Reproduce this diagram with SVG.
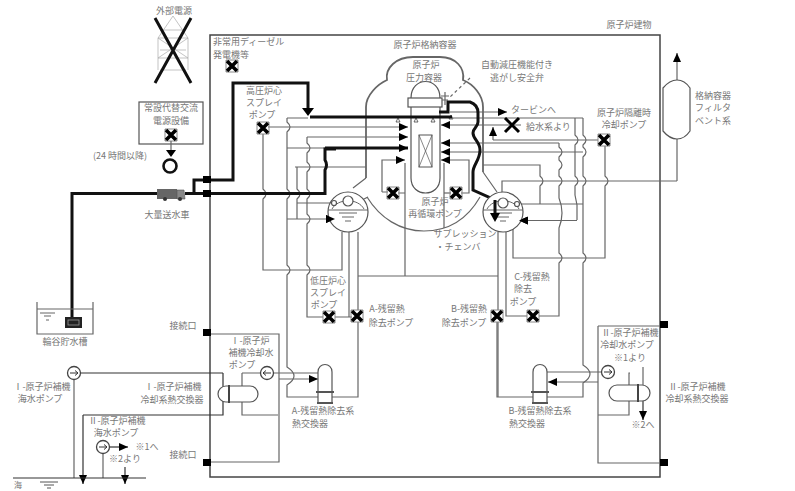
<svg xmlns="http://www.w3.org/2000/svg" width="795" height="491" viewBox="0 0 795 491">
<style>
text{font-family:"Noto Sans CJK JP","Noto Sans",sans-serif;font-size:9px;fill:#777;text-anchor:middle}
.s{text-anchor:start}
.p{fill:none;stroke:#666;stroke-width:1.2}
.d{fill:none;stroke:#333;stroke-width:1.2}
.g{fill:none;stroke:#666;stroke-width:1.8}
.t{fill:none;stroke:#111;stroke-width:3}
.l{fill:none;stroke:#aaa;stroke-width:.7}
.h{fill:#fff;stroke:#555;stroke-width:1.2}
.b{fill:#000}
</style>
<defs>
<marker id="a" markerUnits="userSpaceOnUse" markerWidth="10" markerHeight="8" refX="9" refY="4" orient="auto"><path d="M0,0L9,4L0,8Z" fill="#000"/></marker>
<g id="xp"><path d="M-6,-6H6L-6,6H6ZM-6,-6V6M6,-6V6" fill="#fff" stroke="#888" stroke-width="1"/><path d="M-5,-5L5,5M5,-5L-5,5" stroke="#000" stroke-width="3.6"/></g>
<g id="pu"><circle r="6.5" fill="#fff" stroke="#444" stroke-width="1.3"/><path d="M-4,0H4M1,-2.5L4,0L1,2.5" fill="none" stroke="#333" stroke-width="1"/></g>
<g id="hx"><path class="h" d="M-7,38V7C-7,-3 7,-3 7,7V38Z"/><path d="M-9,27H9M-8,38H8" stroke="#555" stroke-width="2"/></g>
<g id="tr"><circle r="20" class="h"/><path d="M-16,-3C-10,-14 10,-14 16,-3M-20,-2H20M-9,1H9M-6,5H6M-3,9H3" fill="none" stroke="#666" stroke-width="1"/></g>
</defs>

<g id="building"><rect x="210" y="35" width="450" height="442" fill="none" stroke="#444" stroke-width="1.5"/></g>

<g id="containment"><path class="g" d="M366,178V107C366,95 378,84 387,80C385,68 396,57 413,57H440C456,57 465,68 463,80C473,84 483,95 483,107V172"/><path class="p" d="M367,197C380,218 400,231 424,231C450,231 468,218 480,197"/><path class="p" d="M366,178L353,188M368,197L358,202M483,172L497,192"/></g>

<g id="rpv"><path class="h" d="M411,107V98C411,76 440,76 440,98V107"/><path class="h" d="M411,107V178C411,198 440,198 440,178V107"/><rect class="h" x="408" y="98" width="34" height="9"/><rect x="419" y="135" width="13" height="32" fill="#fff" stroke="#555"/><path class="l" style="stroke:#555" d="M419,135L432,167M432,135L419,167"/><path d="M398,118l-2,4h4zM416,118l-2,4h4zM433,118l-2,4h4zM451,115l-2,4h4z" fill="#fff" stroke="#444" stroke-width=".8"/></g>

<g id="connectors">
<path class="p" d="M405,163V276M444,163V228M287,118H308"/>
<path class="p" d="M287,118V122q6,5 0,10V189q6,5 0,10V265q6,5 0,10V367q14,9 0,18V397H358V232"/>
<path class="p" d="M263,133V189q6,5 0,10V270H342V232"/>
<path class="p" d="M307,137V143q6,5 0,10V162q6,5 0,10V189q6,5 0,10V214q6,5 0,10V265q6,5 0,10V317H323M335,317H352"/>
<path class="p" d="M349,232V317"/>
<path class="p" d="M297,167V189q6,5 0,10V219M297,203H333M287,148H325M295,167H366"/>
<path class="p" marker-end="url(#a)" d="M268,127H408"/>
<path class="p" marker-end="url(#a)" d="M307,137H408"/>
<path class="p" marker-end="url(#a)" d="M287,219H335"/>
<path class="p" marker-end="url(#a)" d="M382,192V160H405"/>
<path class="p" d="M382,192H388M398,193H405"/>
<path class="p" marker-end="url(#a)" d="M461,193H469V160H441"/>
<path class="p" d="M444,193H451"/>
<path class="p" d="M358,276H498M498,232V311M498,321V397"/>
<path class="p" marker-end="url(#a)" d="M521,125H441"/>
<path class="p" marker-end="url(#a)" d="M493,140V127"/>
<path class="p" d="M493,140H598"/>
<path class="p" marker-end="url(#a)" d="M450,112H507"/>
<path class="p" marker-end="url(#a)" d="M559,143H441"/>
<path class="p" marker-end="url(#a)" d="M583,152H441"/>
<path class="p" d="M483,165H540V176q6,5 0,10V204M502,200V181H677"/>
<path class="p" d="M559,143V147q6,5 0,10V160q6,5 0,10V176q6,5 0,10V198q6,15 0,30V253q6,5 0,10V316H539M527,316H506V232"/>
<path class="p" d="M452,118H583M575,118V135q6,5 0,10V176q6,5 0,10V195L577,205V220"/>
<path class="p" d="M583,118V135q6,5 0,10V147q6,5 0,10V176q6,5 0,10V253q6,5 0,10V365q14,9 0,18V397H497V321"/>
<path class="p" d="M520,204H583M513,220V258H605V186q6,-5 0,-10V146"/>
<path class="p" marker-end="url(#a)" d="M577,220.5H519"/>
<path class="p" d="M677,139V181"/>
<path class="p" marker-end="url(#a)" d="M677,80V53"/>
<path class="d" d="M74,373H210M223,373V415H83M210,373H223"/>
<path class="p" stroke-width="1.5" d="M74,379V478M103,453V478"/>
<path class="d" marker-end="url(#a)" d="M83,415V484"/>
<path class="d" marker-end="url(#a)" d="M109,447H128"/>
<path class="d" marker-end="url(#a)" d="M125,467V484"/>
<path class="d" d="M13,478H146"/>
<path class="p" d="M211,334H279V462H211M242,373V415H278M242,373H262M272,373H318"/>
<path class="p" marker-end="url(#a)" d="M279,379H318"/>
<path class="p" d="M598,326V463H660M630,373H629V415H598M547,372H602"/>
<path class="p" marker-end="url(#a)" d="M598,382H548"/>
<path class="p" d="M643,367V385"/>
<path class="d" marker-end="url(#a)" d="M643,401V420"/>
<path class="p" d="M598,326H660"/>
<path class="p" stroke-dasharray="3 3" d="M470,78L450,97"/>
<path class="p" d="M445,92V105M441,96H449M442,100H448"/>
<path class="t" d="M72,317V193.5H157M185,193.5H325V170q3,-5 0,-10V149H336"/>
<path class="t" d="M194,194V180H233V83H308V112"/>
<path class="t" marker-end="url(#a)" d="M325,148H408"/>
<path class="t" d="M310,117H452"/>
<path class="t" d="M439,112H448V102H470C476,104 478,108 478,113V122C478,127 473,128 473,133C473,139 480,142 480,150C480,160 473,165 473,172V190L495,200V214"/>
<path d="M302,108H314L308,116Z" fill="#000"/>
<path d="M490,213H500L495,222Z" fill="#000"/>
</g>

<g id="torus-a"><use href="#tr" x="348" y="212"/><circle cx="348" cy="201" r="5" class="h"/><circle cx="334" cy="203" r="2.5" class="h"/></g>
<g id="torus-b"><use href="#tr" x="503" y="212"/><circle cx="503" cy="203" r="5" class="h"/><circle cx="517" cy="204" r="2.5" class="h"/><path class="t" d="M495,200V214"/><path d="M490,213H500L495,222Z" fill="#000"/><path d="M519,220.5L528,216.5V224.5Z" fill="#000"/></g>
<g id="torus-a-arrow"><path d="M335,219L326,215V223Z" fill="#000"/></g>

<g id="external-power"><path class="l" d="M173,16L158,38V70M173,16L188,38V70M162,30H184M158,38H188M160,50H186M158,58H188M160,70H186M158,38L188,58M188,38L158,58"/><path d="M155,18L191,83M191,18L155,83" stroke="#111" stroke-width="3" fill="none"/></g>

<g id="ac-power"><rect x="139" y="102" width="64" height="42" fill="#fff" stroke="#555" stroke-width="1.2"/><use href="#xp" x="171" y="135"/></g>
<g id="ac-link"><path class="p" d="M171,141V150"/><path d="M166,150H176L171,157Z" fill="#000"/><circle cx="170" cy="166" r="6.5" fill="none" stroke="#111" stroke-width="2.6"/></g>

<g id="truck"><rect x="157" y="189" width="20" height="10" fill="#666"/><path d="M177,190H184L185,199H177Z" fill="#888" stroke="#555" stroke-width=".6"/><circle cx="165" cy="199" r="2" fill="#333"/><circle cx="180" cy="199" r="2" fill="#333"/></g>

<g id="tank"><path class="p" d="M37,302V334H93V302M37,309H93M40,313H55M44,316H51M46,320H49"/><rect x="65" y="317" width="17" height="11" fill="#222"/><rect x="68" y="320" width="11" height="5" fill="none" stroke="#999" stroke-width=".8"/></g>

<g id="ports"><rect class="b" x="203" y="176" width="8" height="7"/><rect class="b" x="203" y="190" width="8" height="7"/><rect class="b" x="203" y="329" width="8" height="7"/><rect class="b" x="203" y="459" width="8" height="7"/><rect class="b" x="660" y="321" width="8" height="7"/><rect class="b" x="660" y="459" width="8" height="7"/></g>

<g id="pump-edg"><use href="#xp" x="232" y="66"/></g>
<g id="pump-hpcs"><use href="#xp" x="263" y="128"/></g>
<g id="pump-rcic"><use href="#xp" x="604" y="140"/></g>
<g id="pump-feed"><path d="M505,118L519,132M519,118L505,132" stroke="#000" stroke-width="3"/></g>
<g id="pump-r1"><use href="#xp" x="393" y="193"/></g>
<g id="pump-r2"><use href="#xp" x="456" y="193"/></g>
<g id="pump-lpcs"><use href="#xp" x="329" y="317"/></g>
<g id="pump-rhra"><use href="#xp" x="357" y="316"/></g>
<g id="pump-rhrb"><use href="#xp" x="497" y="316"/></g>
<g id="pump-rhrc"><use href="#xp" x="533" y="316"/></g>

<g id="seapump-1"><use href="#pu" x="74" y="373"/></g>
<g id="seapump-2"><use href="#pu" x="103" y="447"/></g>
<g id="ccw-1"><use href="#pu" x="267" y="373" transform="rotate(180 267 373)"/></g>
<g id="ccw-2"><use href="#pu" x="608" y="372"/></g>

<g id="hx-1"><rect class="h" x="218" y="386" width="40" height="16" rx="8"/><path d="M229,385V403" stroke="#444" stroke-width="2"/></g>
<g id="hx-2"><rect class="h" x="609" y="385" width="41" height="16" rx="8"/><path d="M638,384V402" stroke="#444" stroke-width="2"/></g>
<g id="hx-a"><use href="#hx" x="325" y="365"/></g>
<g id="hx-b"><use href="#hx" x="540" y="365"/></g>

<g id="filter-vent"><path class="h" d="M663,88C668,82 672,80 677,80C682,80 686,82 690,88V131C686,137 682,139 677,139C672,139 668,137 663,131Z"/></g>

<path d="M40,482H58M44,485H54M47,488H51" stroke="#555" fill="none"/>

<g id="labels">
<text x="174" y="14">外部電源</text>
<text class="s" x="213" y="45">非常用ディーゼル</text>
<text class="s" x="213" y="58">発電機等</text>
<text x="264" y="94">高圧炉心</text><text x="264" y="106">スプレイ</text><text x="262" y="118">ポンプ</text>
<text x="171" y="111">常設代替交流</text><text x="171" y="124">電源設備</text>
<text x="120" y="159">(24 時間以降)</text>
<text x="167" y="218">大量送水車</text>
<text x="65" y="345">輪谷貯水槽</text>
<text x="183" y="329">接続口</text><text x="183" y="458">接続口</text>
<text x="42" y="390">Ⅰ-原子炉補機</text><text x="40" y="402">海水ポンプ</text>
<text x="173" y="390">Ⅰ-原子炉補機</text><text x="172" y="403">冷却系熱交換器</text>
<text x="117" y="424">Ⅱ-原子炉補機</text><text x="116" y="436">海水ポンプ</text>
<text x="147" y="450">※1へ</text><text x="125" y="462">※2より</text>
<text x="18" y="488" style="font-size:8px">海</text>
<text x="250" y="344">Ⅰ-原子炉</text><text x="251" y="356">補機冷却水</text><text x="242" y="368">ポンプ</text>
<text x="323" y="414">A-残留熱除去系</text><text x="310" y="427">熱交換器</text>
<text x="328" y="284">低圧炉心</text><text x="328" y="296">スプレイ</text><text x="324" y="308">ポンプ</text>
<text x="387" y="312">A-残留熱</text><text x="391" y="326">除去ポンプ</text>
<text x="469" y="312">B-残留熱</text><text x="464" y="326">除去ポンプ</text>
<text x="532" y="280">C-残留熱</text><text x="523" y="292">除去</text><text x="523" y="305">ポンプ</text>
<text x="465" y="237">サプレッション</text><text x="458" y="250">・チェンバ</text>
<text x="435" y="205">原子炉</text><text x="435" y="217">再循環ポンプ</text>
<text x="426" y="68">原子炉</text><text x="424" y="81">圧力容器</text>
<text x="517" y="68">自動減圧機能付き</text><text x="517" y="81">逃がし安全弁</text>
<text x="425" y="48">原子炉格納容器</text>
<text class="s" x="511" y="113">タービンへ</text><text class="s" x="526" y="130">給水系より</text>
<text x="624" y="116">原子炉隔離時</text><text x="624" y="128">冷却ポンプ</text>
<text x="629" y="28">原子炉建物</text>
<text x="713" y="99">格納容器</text><text x="713" y="111">フィルタ</text><text x="713" y="124">ベント系</text>
<text x="697" y="390">Ⅱ-原子炉補機</text><text x="697" y="402">冷却系熱交換器</text>
<text x="630" y="336">Ⅱ-原子炉補機</text><text x="627" y="348">冷却水ポンプ</text><text x="630" y="361">※1より</text>
<text x="643" y="428">※2へ</text>
<text x="540" y="414">B-残留熱除去系</text><text x="527" y="427">熱交換器</text>
</g>
</svg>
